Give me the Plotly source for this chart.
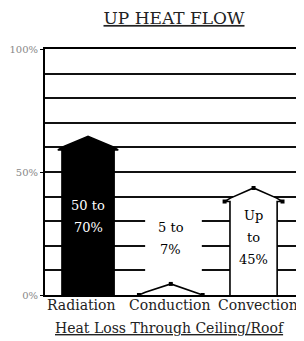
import plotly.graph_objects as go

# ---- data ----
categories = ["Radiation", "Conduction", "Convection"]
body_top = [59, 0, 38]          # % level where the wall of each "house" ends
roof_peak = [64.5, 4.5, 43.5]   # % level of the roof apex
bar_labels = [["50 to", "70%"], ["5 to", "7%"], ["Up", "to", "45%"]]
y_tick_vals = [0, 50, 100]
y_tick_text = ["0%", "50%", "100%"]
title_text = "UP HEAT FLOW"
x_title_text = "Heat Loss Through Ceiling/Roof"

# ---- styling ----
fills = ["black", "white", "white"]
body_w = [0.63, 0.0, 0.57]
eave_w = [0.73, 0.77, 0.70]
label_colors = ["white", "black", "black"]
label_center = [32, 23, 23.5]
cat_xshift = [-7, -1, 4]
FONT = "DejaVu Serif"
W, H = 296, 333   # page body has an 8px margin

fig = go.Figure()

for i, cat in enumerate(categories):
    c = i
    bw, ew = body_w[i] / 2, eave_w[i] / 2
    top, peak = body_top[i], roof_peak[i]
    rise = peak - top
    xs, ys = [], []
    if bw > 0:
        xs += [c - bw, c - bw]
        ys += [0, top]
    xs += [c - ew, c - 0.8 * ew, c, c + 0.8 * ew, c + ew]
    ys += [top, top + 0.25 * rise, peak, top + 0.25 * rise, top]
    if bw > 0:
        xs += [c + bw, c + bw]
        ys += [top, 0]
    fig.add_trace(go.Scatter(
        x=xs, y=ys, mode="lines", fill="toself", fillcolor=fills[i],
        line=dict(color="black", width=1.6), hoverinfo="skip", showlegend=False))
    if fills[i] == "white":
        fig.add_trace(go.Scatter(
            x=[c - ew, c, c + ew], y=[top, peak, top], mode="markers",
            marker=dict(symbol="square", size=4, color="black"),
            hoverinfo="skip", showlegend=False))

# white box behind the conduction label (interrupts gridlines)
fig.add_shape(type="rect", x0=0.69, x1=1.375, y0=6, y1=36.5, layer="between",
              fillcolor="white", line=dict(width=0))

for i, lines in enumerate(bar_labels):
    n = len(lines)
    for j, t in enumerate(lines):
        fig.add_annotation(x=i, y=label_center[i], text=t, showarrow=False,
                           xref="x", yref="y", yshift=(n - 1) * 11 - j * 22,
                           font=dict(family=FONT, size=13, color=label_colors[i]))

# category labels
for i, cat in enumerate(categories):
    fig.add_annotation(x=i, y=0, xref="x", yref="paper", text=cat,
                       showarrow=False, yanchor="middle", yshift=-10,
                       xshift=cat_xshift[i],
                       font=dict(family=FONT, size=14, color="#222"))

fig.add_annotation(x=0.496, y=0, xref="paper", yref="paper", yshift=-33,
                   yanchor="middle",
                   text="<u>" + x_title_text + "</u>", showarrow=False,
                   font=dict(family=FONT, size=14, color="#222"))

fig.update_layout(
    width=W, height=H,
    margin=dict(l=37, r=7, t=41, b=46),
    paper_bgcolor="white", plot_bgcolor="white",
    title=dict(text="<u>" + title_text + "</u>", x=166 / W, xref="container",
               xanchor="center", y=1 - 10 / H, yanchor="middle",
               font=dict(family=FONT, size=17, color="#222")),
    xaxis=dict(range=[-0.52, 2.525], tickvals=[0, 1, 2], showticklabels=False,
               automargin=False,
               showgrid=False, zeroline=False, showline=True, mirror=True,
               linecolor="black", linewidth=2, ticks=""),
    yaxis=dict(range=[0, 100], tickvals=y_tick_vals, ticktext=y_tick_text,
               automargin=False,
               showgrid=True, gridcolor="#111", gridwidth=2, zeroline=False,
               showline=True, mirror=True, linecolor="black", linewidth=2,
               ticks="outside", ticklen=3, tickcolor="black",
               tickfont=dict(family=FONT, size=10, color="#888"),
               minor=dict(dtick=10, showgrid=True, gridcolor="#111", gridwidth=2)),
)

fig.write_html("out.html")
